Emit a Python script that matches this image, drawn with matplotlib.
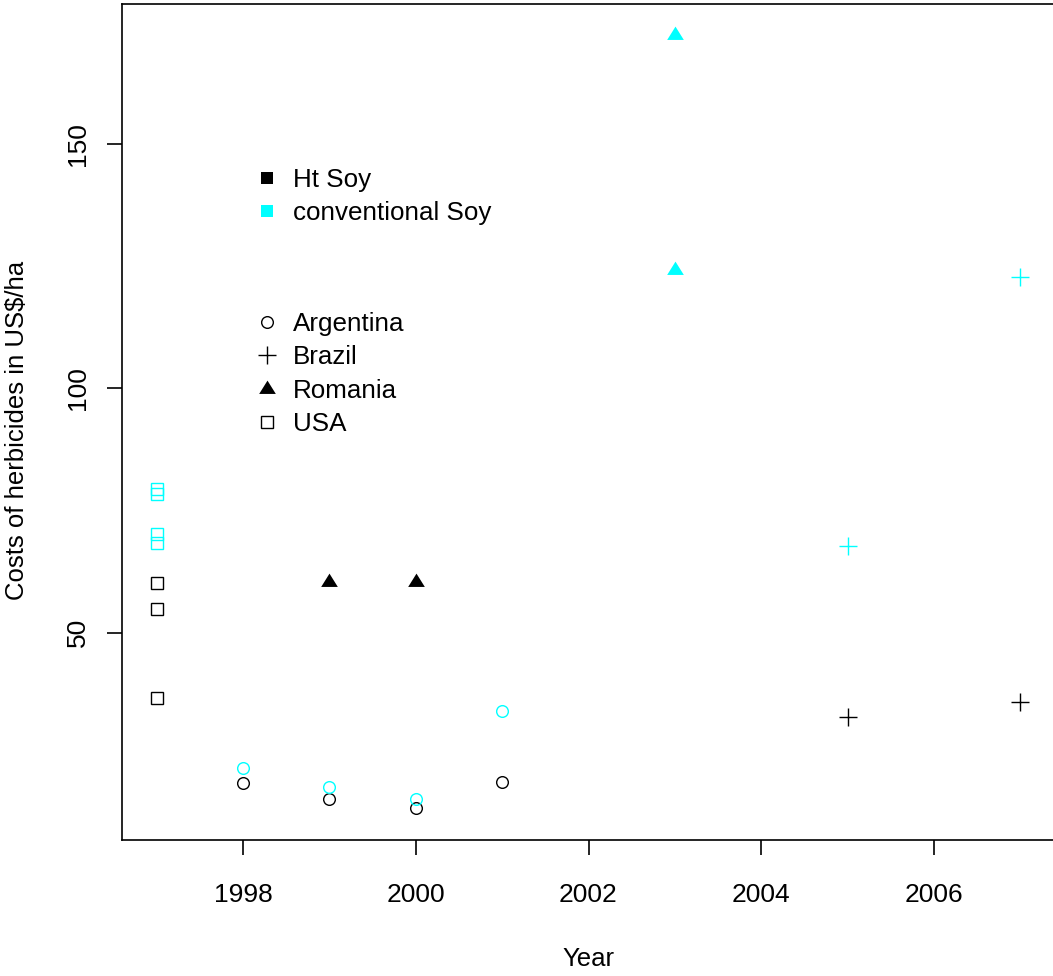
import numpy as np
import matplotlib
matplotlib.use('Agg')
import matplotlib.pyplot as plt
from matplotlib.lines import Line2D
from matplotlib.path import Path

plt.rcParams['font.family'] = ['Liberation Sans', 'DejaVu Sans']

# costs of herbicides in US$/ha
usa_years_ht = [1997, 1997, 1997]
usa_ht = [60.1, 54.8, 36.7]
usa_years_conv = [1997, 1997, 1997, 1997]
usa_conv = [79.3, 78.4, 70.1, 68.4]

arg_years = [1998, 1999, 2000, 2001]
arg_ht = [19.3, 16.0, 14.1, 19.5]
arg_conv = [22.3, 18.5, 15.9, 34.0]

rom_years_ht = [1999, 2000]
rom_ht = [60.3, 60.3]
rom_years_conv = [2003, 2003]
rom_conv = [172.3, 124.1]

bra_years = [2005, 2007]
bra_ht = [32.7, 35.8]
bra_conv = [67.8, 122.8]

countries = ['Argentina', 'Brazil', 'Romania', 'USA']
types = ['Ht Soy', 'conventional Soy']
c_ht = 'black'
c_conv = '#00FFFF'

# flat filled triangle like R pch 17, centred on its centroid
tri = Path([(0, 1.067), (-1, -0.533), (1, -0.533), (0, 1.067)],
           [Path.MOVETO, Path.LINETO, Path.LINETO, Path.CLOSEPOLY])

W, H = 1053, 976
fig = plt.figure(figsize=(W / 100, H / 100), dpi=100)
ax = fig.add_axes([122 / W, 136 / H, 933 / W, 836 / H])

circ = dict(marker='o', ms=8.4, mfc='none', mew=1.0, ls='none')
sq = dict(marker='s', ms=9.0, mfc='none', mew=1.0, ls='none')
plus = dict(marker='+', ms=12.7, mew=1.0, ls='none')
trik = dict(marker=tri, ms=12.8, mew=0, ls='none')

ax.plot(arg_years, arg_ht, color=c_ht, **circ)
ax.plot(arg_years, arg_conv, color=c_conv, **circ)
ax.plot(bra_years, bra_ht, color=c_ht, **plus)
ax.plot(bra_years, bra_conv, color=c_conv, **plus)
ax.plot(rom_years_ht, rom_ht, color=c_ht, **trik)
ax.plot(rom_years_conv, rom_conv, color=c_conv, **trik)
ax.plot(usa_years_ht, usa_ht, color=c_ht, **sq)
ax.plot(usa_years_conv, usa_conv, color=c_conv, **sq)

ax.set_xlim(1996.6, 2007.4)
ax.set_ylim(7.6, 178.6)
ax.set_xticks([1998, 2000, 2002, 2004, 2006])
ax.set_yticks([50, 100, 150])
for s in ax.spines.values():
    s.set_linewidth(1.2)
ax.tick_params(axis='both', length=10.8, width=1.2, labelsize=19)
ax.tick_params(axis='x', pad=20)
ax.tick_params(axis='y', pad=12)
for lab in ax.get_yticklabels():
    lab.set_rotation(90)
    lab.set_va('center')
ax.set_xlabel('Year', fontsize=18.5, labelpad=29)
ax.set_ylabel('Costs of herbicides in US$/ha', fontsize=18.5, labelpad=27)
ax.yaxis.label.set_y(0.4904)

# legends
tr = fig.transFigure
lkw = dict(loc='upper left', bbox_transform=tr, frameon=False, fontsize=18.7,
           handlelength=1.0, handletextpad=0.5, borderpad=0, borderaxespad=0,
           labelspacing=0.36)
h1 = [Line2D([], [], marker='s', ms=8.4, color=c, ls='none', mew=0) for c in (c_ht, c_conv)]
leg1 = ax.legend(h1, types, bbox_to_anchor=(254 / W, 1 - 168 / H), **lkw)
ax.add_artist(leg1)
h2 = [Line2D([], [], color='black', **circ),
      Line2D([], [], color='black', **plus),
      Line2D([], [], color='black', **trik),
      Line2D([], [], color='black', **sq)]
ax.legend(h2, countries, bbox_to_anchor=(254 / W, 1 - 312 / H), **lkw)

fig.savefig('out.png', dpi=100)
